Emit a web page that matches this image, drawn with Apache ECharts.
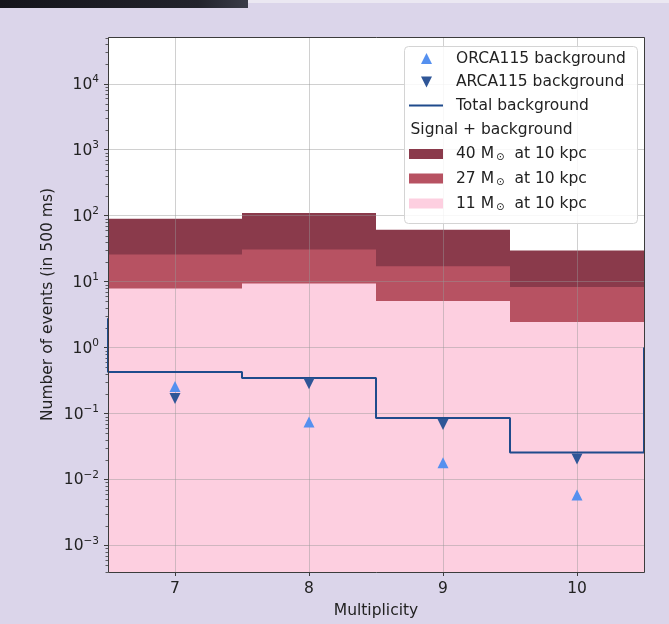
<!DOCTYPE html>
<html>
<head>
<meta charset="utf-8">
<script src="https://cdn.jsdelivr.net/npm/echarts@6/dist/echarts.min.js"></script>
<style>
  html, body { margin: 0; padding: 0; background: #dbd5ea; }
  #chart { width: 669px; height: 624px; }
</style>
</head>
<body>
<div id="chart"></div>
<script>
// Multiplicity bins (centres, width 1)
const multiplicity = [7, 8, 9, 10];
const binWidth = 1;

// Signal + background expectations per bin
const signal40 = [90, 110, 61, 29.6];
const signal27 = [25.7, 30.6, 17.1, 8.3];
const signal11 = [7.85, 9.34, 5.09, 2.44];

// Background-only expectations
const orcaBackground = [0.257, 0.0744, 0.0179, 0.00582];
const arcaBackground = [0.169, 0.283, 0.0682, 0.0204];
const totalBackground = [0.427, 0.346, 0.0857, 0.0256];
const totalEdgeValues = [2.78, 1.0]; // outer vertical ends of the step outline

const yMin = 3.95e-4, yMax = 5.12e4;
const xMin = 6.5, xMax = 10.5;

const FONT = '"DejaVu Sans", sans-serif';
const TEXT = '#222222';

const grid = { left: 108, top: 37, width: 536, height: 535 };

const chart = echarts.init(document.getElementById('chart'), null, { renderer: 'canvas' });

function pairs(xs, ys) { return xs.map((x, i) => [x, ys[i]]); }

function binRenderer(color) {
  return function (params, api) {
    const x = api.value(0), v = api.value(1);
    const p0 = api.coord([x - binWidth / 2, v]);
    const p1 = api.coord([x + binWidth / 2, yMin]);
    return {
      type: 'rect',
      shape: { x: Math.round(p0[0]), y: p0[1], width: Math.round(p1[0]) - Math.round(p0[0]), height: p1[1] - p0[1] },
      style: { fill: color }
    };
  };
}

// Step outline of the total background: bin edges with the bin value held across each bin
const edges = multiplicity.map(m => m - binWidth / 2);
const totalLine = [[edges[0], totalEdgeValues[0]]]
  .concat(pairs(edges, totalBackground))
  .concat([[xMax, totalBackground[totalBackground.length - 1]], [xMax, totalEdgeValues[1]]]);

// Log minor tick positions (2..9 x 10^n) inside the axis range
const minorTickValues = [];
for (let e = -4; e <= 4; e++) {
  for (let k = 2; k <= 9; k++) {
    const v = k * Math.pow(10, e);
    if (v > yMin && v < yMax) minorTickValues.push(v);
  }
}

function supLabel(value) {
  const exp = Math.round(Math.log10(value));
  const s = String(exp).replace('-', '\u2212');
  return '{b|10}{s|' + s + '}';
}

const COL40 = '#8a3a4b';
const COL27 = '#b75262';
const COL11 = '#fdcfe0';
const ORCA = '#5590ef';
const ARCA = '#2f5697';
const TOTAL = '#1f4b8c';
const GRIDLINE = 'rgba(150,150,150,0.45)';

// Legend
const lgX = 404, lgY = 46, lgW = 233, lgH = 177;
const rowY = [58.5, 82, 105.5, 129.5, 154, 178.5, 203.5];
const handleX = 409, handleW = 34, textX = 456;
const legendFont = { fontFamily: 'DejaVu Sans', fontSize: 15.5, fill: TEXT };

function legendText(y, text, x) {
  return {
    type: 'text', z: 20,
    style: Object.assign({
      text: text, x: x || textX, y: y, verticalAlign: 'middle', align: 'left',
      rich: {
        o: { fontFamily: 'DejaVu Sans', fontSize: 10, fill: TEXT, padding: [7, 10, 0, 2] }
      }
    }, legendFont)
  };
}
function tri(cx, cy, size, up, color) {
  const h = size / 2;
  const pts = up ? [[cx - h, cy + h], [cx + h, cy + h], [cx, cy - h]]
                 : [[cx - h, cy - h], [cx + h, cy - h], [cx, cy + h]];
  return { type: 'polygon', z: 20, shape: { points: pts }, style: { fill: color } };
}
function patch(y, color) {
  return { type: 'rect', z: 20, shape: { x: handleX, y: y - 5, width: handleW, height: 10 }, style: { fill: color } };
}

const graphic = [
  { type: 'rect', z: 0, shape: { x: 0, y: 0, width: 248, height: 8 },
    style: { fill: new echarts.graphic.LinearGradient(0, 0, 1, 0, [
      { offset: 0, color: '#14141b' }, { offset: 0.8, color: '#22232c' }, { offset: 1, color: '#3a3c48' }]) } },
  { type: 'rect', z: 0, shape: { x: 248, y: 0, width: 421, height: 3 }, style: { fill: '#ebe8f2' } },
  // plot frame
  { type: 'rect', z: 15, shape: { x: grid.left + 0.5, y: grid.top + 0.5, width: grid.width, height: grid.height },
    style: { fill: null, stroke: '#3c3c3c', lineWidth: 1 } },
  // legend box
  { type: 'rect', z: 19, shape: { x: lgX + 0.5, y: lgY + 0.5, width: lgW, height: lgH, r: 4 },
    style: { fill: 'rgba(255,255,255,0.85)', stroke: '#d4d4d4', lineWidth: 1 } },
  tri(426.5, rowY[0], 11, true, ORCA),
  legendText(rowY[0], 'ORCA115 background'),
  tri(426.5, rowY[1], 11, false, ARCA),
  legendText(rowY[1], 'ARCA115 background'),
  { type: 'line', z: 20, shape: { x1: handleX, y1: rowY[2], x2: handleX + handleW, y2: rowY[2] },
    style: { stroke: TOTAL, lineWidth: 2 } },
  legendText(rowY[2], 'Total background'),
  legendText(rowY[3], 'Signal + background', 410.5),
  patch(rowY[4], COL40),
  legendText(rowY[4], '40 M{o|\u2299}at 10 kpc'),
  patch(rowY[5], COL27),
  legendText(rowY[5], '27 M{o|\u2299}at 10 kpc'),
  patch(rowY[6], COL11),
  legendText(rowY[6], '11 M{o|\u2299}at 10 kpc')
];

const option = {
  backgroundColor: '#dbd5ea',
  animation: false,
  textStyle: { fontFamily: FONT },
  grid: Object.assign({ show: true, backgroundColor: '#ffffff', borderWidth: 0 }, grid),
  xAxis: {
    type: 'value', min: xMin, max: xMax, splitNumber: 4, z: 2,
    name: 'Multiplicity', nameLocation: 'middle', nameGap: 31, nameMoveOverlap: false,
    nameTextStyle: { fontFamily: 'DejaVu Sans', fontSize: 15.5, color: TEXT },
    axisLine: { show: false },
    axisTick: { show: true, length: 4, lineStyle: { color: '#3c3c3c', width: 1 } },
    axisLabel: {
      margin: 9, fontFamily: 'DejaVu Sans', fontSize: 15.5, color: TEXT,
      showMinLabel: false, showMaxLabel: false,
      formatter: v => (Math.abs(v - Math.round(v)) < 1e-6 ? String(Math.round(v)) : '')
    },
    splitLine: { show: true, lineStyle: { color: GRIDLINE, width: 1 } }
  },
  yAxis: {
    type: 'log', logBase: 10, min: yMin, max: yMax, z: 2,
    name: 'Number of events (in 500 ms)', nameLocation: 'middle', nameGap: 52, nameMoveOverlap: false,
    nameTextStyle: { fontFamily: 'DejaVu Sans', fontSize: 15.5, color: TEXT },
    axisLine: { show: false },
    axisTick: { show: true, length: 4, lineStyle: { color: '#3c3c3c', width: 1 } },
    axisLabel: {
      margin: 9, showMinLabel: false, showMaxLabel: false,
      formatter: supLabel,
      rich: {
        b: { fontFamily: 'DejaVu Sans', fontSize: 15.5, color: TEXT, lineHeight: 18, verticalAlign: 'bottom' },
        s: { fontFamily: 'DejaVu Sans', fontSize: 10.5, color: TEXT, lineHeight: 11, padding: [0, 0, 8, 0], verticalAlign: 'bottom' }
      }
    },
    splitLine: { show: true, lineStyle: { color: GRIDLINE, width: 1 } }
  },
  series: [
    { name: '40', type: 'custom', z: 1, renderItem: binRenderer(COL40), encode: { x: 0, y: 1 }, data: pairs(multiplicity, signal40) },
    { name: '27', type: 'custom', z: 1, renderItem: binRenderer(COL27), encode: { x: 0, y: 1 }, data: pairs(multiplicity, signal27) },
    { name: '11', type: 'custom', z: 1, renderItem: binRenderer(COL11), encode: { x: 0, y: 1 }, data: pairs(multiplicity, signal11) },
    {
      name: 'minor ticks', type: 'custom', z: 3, clip: false, silent: true,
      renderItem: function (params, api) {
        const p = api.coord([xMin, api.value(0)]);
        const y = Math.round(p[1]) + 0.5;
        return { type: 'line', shape: { x1: p[0] - 2.5, y1: y, x2: p[0], y2: y }, style: { stroke: '#3c3c3c', lineWidth: 0.8 } };
      },
      encode: { y: 0 },
      data: minorTickValues.map(v => [v])
    },
    {
      name: 'Total background', type: 'line', z: 3, step: 'end', clip: false,
      showSymbol: false, symbol: 'none',
      lineStyle: { color: TOTAL, width: 2 },
      data: totalLine
    },
    {
      name: 'ORCA115 background', type: 'scatter', z: 4, symbol: 'triangle', symbolSize: 11,
      itemStyle: { color: ORCA, opacity: 1 }, data: pairs(multiplicity, orcaBackground)
    },
    {
      name: 'ARCA115 background', type: 'scatter', z: 4, symbol: 'triangle', symbolSize: 11, symbolRotate: 180,
      itemStyle: { color: ARCA, opacity: 1 }, data: pairs(multiplicity, arcaBackground)
    }
  ],
  graphic: graphic
};

chart.setOption(option);
</script>
</body>
</html>
